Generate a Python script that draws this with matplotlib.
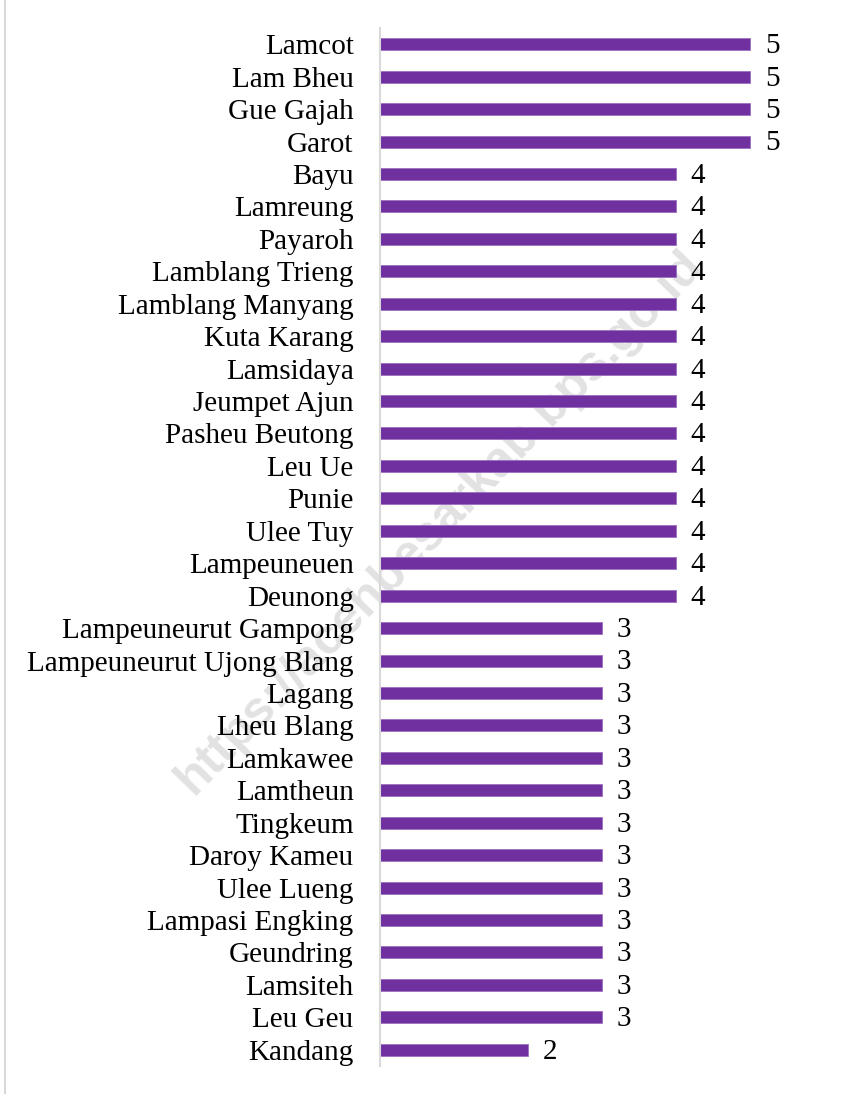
import matplotlib.pyplot as plt
from matplotlib.lines import Line2D

# villages and counts, top to bottom
villages = ['Lamcot', 'Lam Bheu', 'Gue Gajah', 'Garot', 'Bayu', 'Lamreung', 'Payaroh',
            'Lamblang Trieng', 'Lamblang Manyang', 'Kuta Karang', 'Lamsidaya', 'Jeumpet Ajun',
            'Pasheu Beutong', 'Leu Ue', 'Punie', 'Ulee Tuy', 'Lampeuneuen', 'Deunong',
            'Lampeuneurut Gampong', 'Lampeuneurut Ujong Blang', 'Lagang', 'Lheu Blang',
            'Lamkawee', 'Lamtheun', 'Tingkeum', 'Daroy Kameu', 'Ulee Lueng', 'Lampasi Engking',
            'Geundring', 'Lamsiteh', 'Leu Geu', 'Kandang']
counts = [5, 5, 5, 5, 4, 4, 4, 4, 4, 4, 4, 4, 4, 4, 4, 4, 4, 4,
          3, 3, 3, 3, 3, 3, 3, 3, 3, 3, 3, 3, 3, 2]

plt.rcParams['font.family'] = ['Liberation Serif', 'DejaVu Serif']

W, H = 851, 1095
fig = plt.figure(figsize=(W / 100, H / 100), dpi=100)
# axes: x from 380 px, 74 px per unit; y from 28 to 1066 px
ax = fig.add_axes([380 / W, 1 - 1066 / H, 6 * 74 / W, (1066 - 28) / H])
ax.patch.set_visible(False)

pos = list(range(len(villages)))
ax.barh(pos, counts, height=0.37, color='#7030A0', edgecolor='#9a70c0', linewidth=0.6)
ax.set_ylim(len(villages) - 0.5, -0.5)
ax.set_xlim(0, 6)
ax.set_yticks(pos)
ax.set_yticklabels(villages, fontsize=21)
ax.tick_params(axis='y', length=0, pad=19)
ax.set_xticks([])
for s in ['top', 'right', 'bottom']:
    ax.spines[s].set_visible(False)
ax.spines['left'].set_color('#d9d9d9')
ax.spines['left'].set_linewidth(1.5)

for p, c in zip(pos, counts):
    ax.text(c + 0.2, p + 0.06, str(c), va='center', ha='left', fontsize=21)

# watermark, under the bars
fig.text(440 / W, 1 - 522 / H, 'https://acehbesarkab.bps.go.id', rotation=46,
         ha='center', va='center', fontsize=36, fontweight='bold', color='#e2e2e2',
         family='Liberation Sans', zorder=-1)

# left border of the frame
fig.add_artist(Line2D([5 / W, 5 / W], [0.002, 1], color='#d9d9d9', linewidth=1.5))

fig.savefig('out.png', dpi=100)
